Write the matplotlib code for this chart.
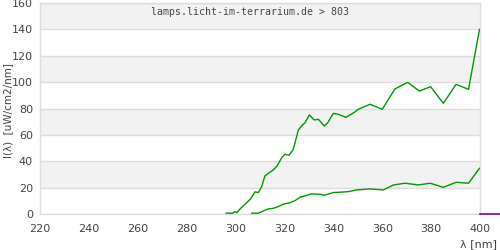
import numpy as np
import matplotlib.pyplot as plt

# spectrum readings, upper and lower curve
wl_upper = [296.1, 298.8, 299.8, 300.5, 302.1, 306.0, 308.0, 309.3, 310.7, 312.0,
            313.4, 315.4, 317.0, 318.9, 320.2, 321.9, 323.6, 325.7, 327.0, 328.4,
            330.2, 332.2, 333.9, 336.3, 337.7, 340.0, 342.0, 345.2, 348.6, 350.2,
            355.0, 360.0, 365.2, 370.4, 375.2, 379.8, 385.0, 390.2, 395.3, 399.8]
val_upper = [0.8, 0.8, 2.0, 1.2, 4.5, 11.3, 17.0, 16.4, 21.0, 29.0,
             31.0, 33.5, 36.6, 42.9, 45.4, 44.7, 49.0, 63.8, 66.8, 69.3,
             75.2, 71.4, 71.9, 66.8, 69.3, 76.4, 75.7, 73.4, 77.2, 79.5,
             83.3, 79.5, 94.9, 99.9, 93.3, 96.6, 84.0, 98.4, 94.6, 140.0]

wl_lower = [306.6, 309.3, 311.4, 313.4, 315.4, 317.5, 319.5, 322.3, 324.3, 326.4,
            328.4, 330.9, 334.6, 336.3, 340.0, 346.0, 349.5, 355.0, 360.5, 364.6,
            369.3, 374.8, 379.6, 385.0, 390.2, 395.3, 399.8]
val_lower = [0.8, 0.8, 2.5, 4.0, 4.5, 5.8, 7.6, 8.8, 10.3, 12.9,
             13.9, 15.4, 15.1, 14.4, 16.4, 17.1, 18.4, 19.2, 18.4, 22.2,
             23.5, 22.2, 23.5, 20.4, 24.2, 23.5, 34.8]

wl_beyond = [400, 408]
val_beyond = [0, 0]

x_ticks = [220, 240, 260, 280, 300, 320, 340, 360, 380, 400]
y_ticks = [0, 20, 40, 60, 80, 100, 120, 140, 160]

fig = plt.figure(figsize=(5, 2.5), dpi=100)
ax = fig.add_axes([0.08, 0.143, 0.88, 0.845])

# alternating bands
for i in range(0, len(y_ticks) - 1):
    if i % 2 == 1:
        ax.axhspan(y_ticks[i], y_ticks[i + 1], color='#f2f2f2', zorder=0, lw=0)
for t in y_ticks:
    ax.axhline(t, color='#dddddd', lw=1, zorder=1)

ax.plot(wl_upper, val_upper, color='#009900', lw=1, zorder=3)
ax.plot(wl_lower, val_lower, color='#009900', lw=1, zorder=3)
ax.plot(wl_beyond, val_beyond, color='#7000d0', lw=1.2, zorder=3, clip_on=False)

ax.set_xlim(220, 400)
ax.set_ylim(0, 160)
ax.set_xticks(x_ticks)
ax.set_yticks(y_ticks)
ax.tick_params(length=0, labelsize=8, labelcolor='#444444')
ax.tick_params(axis='x', pad=7)
ax.tick_params(axis='y', pad=5)
for s in ax.spines.values():
    s.set_color('#dddddd')
    s.set_linewidth(1)

fig.text(0.5, 0.953, 'lamps.licht-im-terrarium.de > 803',
         ha='center', va='center', family='DejaVu Sans Mono', fontsize=7.1,
         color='#444444')
fig.text(0.016, 0.56, 'I(λ)  [uW/cm2/nm]', rotation=90, ha='center', va='center',
         fontsize=7.5, color='#444444')
fig.text(0.958, 0.022, 'λ [nm]', ha='center', va='center', fontsize=8,
         color='#444444')

fig.savefig('out.png', dpi=100)
